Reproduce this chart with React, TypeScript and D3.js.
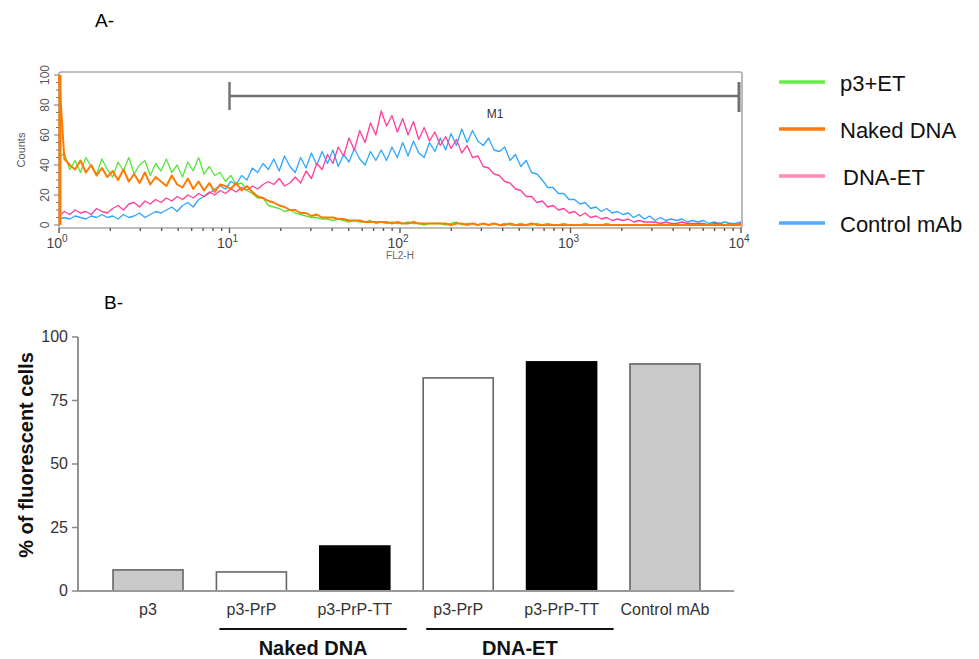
import React from 'react';
import * as d3 from 'd3';

// ---------- Panel A data: FL2-H histogram, 128 channels over 4 decades ----------
const CHANNELS = 128;
const p3ET = [
  45, 48, 37, 43, 35, 45, 39, 34, 44, 37,
  32, 42, 36, 45, 34, 40, 43, 33, 41, 36,
  44, 35, 40, 32, 42, 36, 45, 34, 39, 33,
  35, 29, 33, 27, 28, 23, 21, 18, 18, 13,
  12, 11, 9, 10, 8, 7, 6, 5, 5, 4,
  4, 3, 4, 3, 2, 3, 2, 2, 3, 1,
  2, 1, 2, 1, 1, 2, 1, 1, 0, 1,
  1, 1, 0, 1, 2, 0, 1, 1, 0, 1,
  0, 1, 0, 1, 0, 0, 1, 0, 0, 1,
  0, 1, 0, 0, 1, 0, 0, 0, 1, 0,
  0, 0, 1, 0, 0, 0, 0, 0, 0, 0,
  0, 0, 0, 0, 0, 0, 0, 0, 0, 0,
  0, 0, 0, 0, 0, 0, 0, 0,
];
const nakedDNA = [
  100, 44, 40, 37, 43, 35, 40, 33, 38, 32,
  36, 30, 37, 29, 34, 28, 35, 27, 32, 29,
  26, 33, 27, 25, 31, 24, 29, 23, 28, 22,
  27, 26, 24, 28, 23, 26, 22, 19, 18, 16,
  15, 13, 12, 10, 10, 8, 8, 6, 7, 5,
  5, 5, 4, 4, 3, 3, 3, 2, 2, 2,
  2, 2, 1, 2, 1, 1, 2, 1, 1, 1,
  1, 1, 1, 0, 1, 1, 0, 1, 0, 1,
  0, 1, 0, 0, 1, 0, 0, 0, 1, 0,
  0, 0, 0, 0, 0, 0, 0, 0, 0, 0,
  0, 0, 0, 0, 0, 0, 0, 0, 0, 0,
  0, 0, 0, 0, 0, 0, 0, 0, 0, 0,
  0, 0, 0, 0, 0, 0, 0, 0,
];
const dnaET = [
  6, 9, 7, 10, 8, 9, 7, 11, 9, 8,
  11, 13, 10, 14, 15, 12, 16, 14, 17, 15,
  18, 16, 19, 17, 20, 18, 21, 19, 22, 20,
  23, 21, 24, 22, 25, 23, 26, 24, 27, 29,
  27, 31, 26, 28, 32, 28, 36, 31, 41, 37,
  47, 41, 52, 46, 58, 50, 63, 55, 68, 60,
  76, 66, 73, 62, 71, 60, 69, 57, 65, 56,
  62, 53, 59, 51, 57, 48, 53, 45, 46, 39,
  38, 34, 33, 29, 28, 24, 23, 19, 19, 15,
  16, 12, 13, 10, 11, 8, 9, 6, 8, 5,
  6, 4, 5, 3, 4, 3, 4, 2, 3, 2,
  2, 2, 1, 2, 1, 1, 2, 1, 1, 1,
  1, 0, 1, 1, 0, 1, 0, 1,
];
const controlMab = [
  4, 5, 4, 6, 5, 4, 6, 5, 7, 5,
  6, 4, 7, 5, 6, 8, 5, 7, 9, 8,
  10, 12, 9, 13, 15, 12, 17, 19, 21, 24,
  26, 24, 29, 27, 33, 30, 38, 35, 41, 37,
  44, 36, 46, 39, 35, 45, 38, 48, 40, 49,
  41, 50, 39, 47, 42, 51, 44, 40, 49, 43,
  50, 43, 52, 45, 55, 46, 56, 48, 45, 55,
  49, 58, 50, 61, 53, 64, 55, 63, 56, 53,
  58, 50, 49, 52, 43, 47, 39, 43, 35, 34,
  30, 25, 25, 21, 21, 17, 17, 14, 15, 11,
  12, 9, 11, 8, 9, 7, 8, 5, 7, 4,
  6, 3, 5, 3, 4, 3, 4, 2, 3, 2,
  3, 1, 2, 1, 2, 1, 1, 2,
];
const histNames = ['p3+ET', 'Naked DNA', 'DNA-ET', 'Control mAb'];
const histLineColors = ['#55e63a', '#ff7a00', '#ff3f9a', '#2ea6ff'];
const legendColors = ['#66ee44', '#ff7a10', '#ff88b4', '#4aaeff'];
const countTicks = [0, 20, 40, 60, 80, 100];
const decadeExponents = [0, 1, 2, 3, 4];
const markerRange = [10, 10000];
const markerLabel = 'M1';

// ---------- Panel B data ----------
const barCategories = ['p3', 'p3-PrP', 'p3-PrP-TT', 'p3-PrP', 'p3-PrP-TT', 'Control mAb'];
const barValues = [8.3, 7.5, 17.7, 83.9, 90.2, 89.4];
const barFills = ['#c9c9c9', '#ffffff', '#000000', '#ffffff', '#000000', '#c9c9c9'];
const percentTicks = [0, 25, 50, 75, 100];
const groupLabels = ['Naked DNA', 'DNA-ET'];
const groupFrom = [1, 3];
const groupTo = [2, 4];

const FONT = "'Liberation Sans', Arial, Helvetica, sans-serif";

export default function App() {
  // ----- Panel A scales -----
  const xA = d3.scaleLog().domain([1, 10000]).range([59, 741]);
  const yA = d3.scaleLinear().domain([0, 100]).range([225, 75]);
  const frame = { left: 59, top: 72, right: 742, bottom: 228 };
  const chanX = (i: number) => xA(Math.pow(10, (i * 4) / (CHANNELS - 1)));
  const line = d3
    .line<number>()
    .x((_, i) => chanX(i))
    .y((d) => yA(d))
    .curve(d3.curveLinear);
  const series = [p3ET, nakedDNA, dnaET, controlMab];
  const drawOrder = [3, 2, 0, 1];

  const minorX: number[] = [];
  for (let e = 0; e < 4; e++) for (let m = 2; m <= 9; m++) minorX.push(m * Math.pow(10, e));
  const minorY = d3.range(0, 101, 5);

  // ----- Panel B scales -----
  const xB = d3
    .scaleBand<number>()
    .domain(d3.range(barCategories.length))
    .range([79, 734])
    .paddingInner(0.323)
    .paddingOuter(0.329);
  const yB = d3.scaleLinear().domain([0, 100]).range([591, 337]);
  const bw = xB.bandwidth();

  return (
    <svg
      width={979}
      height={659}
      style={{ position: 'absolute', left: 0, top: 0, background: '#fff' }}
      fontFamily={FONT}
    >
      <rect x={0} y={0} width={979} height={659} fill="#fff" />
      {/* ================= Panel A ================= */}
      <text x={95} y={27} fontSize={19} fill="#000">A-</text>

      <rect
        x={frame.left}
        y={frame.top}
        width={frame.right - frame.left}
        height={frame.bottom - frame.top}
        fill="none"
        stroke="#a8a8a8"
        strokeWidth={1.6}
        rx={2}
      />

      {minorY.map((v) => (
        <line
          key={'my' + v}
          x1={frame.left - (v % 20 === 0 ? 5 : 3)}
          x2={frame.left}
          y1={yA(v)}
          y2={yA(v)}
          stroke="#777"
          strokeWidth={1}
        />
      ))}
      {countTicks.map((v) => (
        <text
          key={'yt' + v}
          transform={`translate(${49},${yA(v)}) rotate(-90)`}
          textAnchor="middle"
          fontSize={12}
          fill="#555"
        >
          {v}
        </text>
      ))}
      <text
        transform={`translate(${25},${150}) rotate(-90)`}
        textAnchor="middle"
        fontSize={11}
        fill="#555"
      >
        Counts
      </text>

      {minorX.map((v, i) => (
        <line
          key={'mx' + i}
          x1={xA(v)}
          x2={xA(v)}
          y1={frame.bottom}
          y2={frame.bottom + 3}
          stroke="#555"
          strokeWidth={1.4}
        />
      ))}
      {decadeExponents.map((e) => (
        <g key={'xt' + e}>
          <line
            x1={xA(Math.pow(10, e))}
            x2={xA(Math.pow(10, e))}
            y1={frame.bottom}
            y2={frame.bottom + 5}
            stroke="#555"
            strokeWidth={1.4}
          />
          <text x={xA(Math.pow(10, e)) - 2} y={248} textAnchor="middle" fontSize={14} fill="#444">
            10
            <tspan dy={-6} fontSize={10}>
              {e}
            </tspan>
          </text>
        </g>
      ))}
      <text x={400} y={259} textAnchor="middle" fontSize={10} fill="#666">
        FL2-H
      </text>

      {drawOrder.map((si) => (
        <path
          key={'h' + si}
          d={line(series[si]) || ''}
          fill="none"
          stroke={histLineColors[si]}
          strokeWidth={si === 1 ? 2 : 1.3}
          strokeLinejoin="round"
        />
      ))}
      <line
        x1={xA(1) + 1}
        x2={xA(1) + 1}
        y1={yA(0)}
        y2={yA(nakedDNA[0])}
        stroke={histLineColors[1]}
        strokeWidth={3}
      />

      <g stroke="#707070" strokeWidth={2.4}>
        <line x1={xA(markerRange[0])} x2={xA(markerRange[1]) - 2} y1={96} y2={96} />
        <line x1={xA(markerRange[0])} x2={xA(markerRange[0])} y1={82} y2={110} />
        <line x1={xA(markerRange[1]) - 2} x2={xA(markerRange[1]) - 2} y1={82} y2={112} strokeWidth={3} />
      </g>
      <text x={495} y={118} textAnchor="middle" fontSize={12} fill="#333">
        {markerLabel}
      </text>

      {histNames.map((n, i) => (
        <g key={'lg' + i}>
          <line x1={779} x2={825} y1={82 + i * 47} y2={82 + i * 47} stroke={legendColors[i]} strokeWidth={3.5} />
          <text x={i === 2 ? 843 : 840} y={91 + i * 47} fontSize={22} fill="#111">
            {n}
          </text>
        </g>
      ))}

      {/* ================= Panel B ================= */}
      <text x={104} y={309} fontSize={19} fill="#000">B-</text>

      {barValues.map((v, i) => (
        <rect
          key={'b' + i}
          x={xB(i)!}
          y={yB(v)}
          width={bw}
          height={yB(0) - yB(v)}
          fill={barFills[i]}
          stroke={barFills[i] === '#000000' ? '#000' : '#666'}
          strokeWidth={1.6}
        />
      ))}

      <line x1={78} x2={78} y1={yB(100)} y2={yB(0)} stroke="#888" strokeWidth={1.8} />
      <line x1={78} x2={734} y1={yB(0)} y2={yB(0)} stroke="#999" strokeWidth={1.8} />
      {percentTicks.map((v) => (
        <g key={'pt' + v}>
          <line x1={72} x2={78} y1={yB(v)} y2={yB(v)} stroke="#888" strokeWidth={1.5} />
          <text x={68} y={yB(v) + 5} textAnchor="end" fontSize={16} fill="#333">
            {v}
          </text>
        </g>
      ))}
      <text
        transform={`translate(${33},${455}) rotate(-90)`}
        textAnchor="middle"
        fontSize={20}
        fontWeight="bold"
        fill="#111"
      >
        % of fluorescent cells
      </text>

      {barCategories.map((c, i) => (
        <text key={'cl' + i} x={xB(i)! + bw / 2} y={615} textAnchor="middle" fontSize={16} fill="#333">
          {c}
        </text>
      ))}

      {groupLabels.map((g, k) => {
        const x1 = xB(groupFrom[k])! + bw / 2 - 32;
        const x2 = xB(groupTo[k])! + bw + 17;
        return (
          <g key={'g' + k}>
            <line x1={x1} x2={x2} y1={629} y2={629} stroke="#111" strokeWidth={2} />
            <text x={(x1 + x2) / 2} y={655} textAnchor="middle" fontSize={20} fontWeight="bold" fill="#111">
              {g}
            </text>
          </g>
        );
      })}
    </svg>
  );
}
